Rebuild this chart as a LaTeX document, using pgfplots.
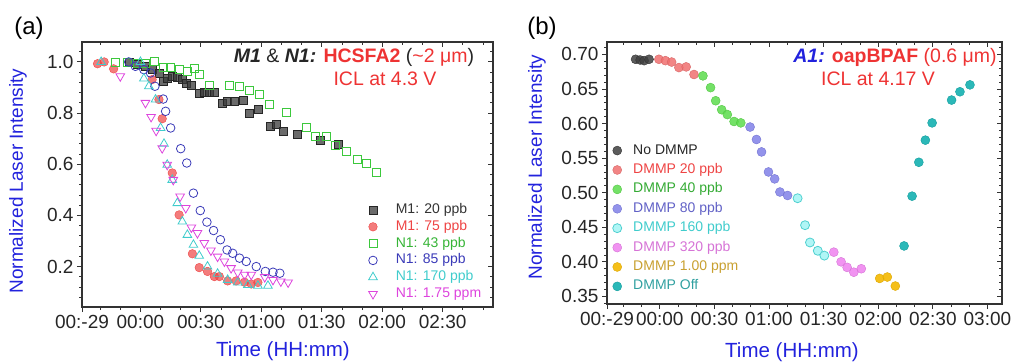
\documentclass[border=0pt]{standalone}
\usepackage{fontspec}
\setmainfont{Liberation Sans}
\usepackage{pgfplots}
\pgfplotsset{compat=1.18}

\definecolor{cBlk}{HTML}{3A3A3A}
\definecolor{cRed}{HTML}{EE4444}
\definecolor{cGrn}{HTML}{3CC83C}
\definecolor{cBlu}{HTML}{3A3AB8}
\definecolor{cCyn}{HTML}{40CCCC}
\definecolor{cMag}{HTML}{DD44DD}
\definecolor{labBlue}{HTML}{2222DD}
\definecolor{txtRed}{HTML}{EE3333}
\definecolor{bBlk}{HTML}{404040}
\definecolor{bRed}{HTML}{F07070}
\definecolor{bGrn}{HTML}{5CDC4C}
\definecolor{bBlu}{HTML}{8080E8}
\definecolor{bCynF}{HTML}{B0F6F6}
\definecolor{bCyn}{HTML}{50D0D0}
\definecolor{bMag}{HTML}{EE80EE}
\definecolor{bOrg}{HTML}{F4B800}
\definecolor{bTeal}{HTML}{14B0B0}
\definecolor{tGold}{HTML}{C8A030}
\definecolor{tTeal}{HTML}{30A0A0}

\pgfplotsset{
  base/.style={scale only axis,
    axis line style={line width=1.1pt, black!80},
    major tick style={line width=1pt, black!80},
    minor tick style={line width=0.8pt, black!80},
    major tick length=5pt, minor tick length=3pt,
    ticklabel style={font=\fontsize{19}{21}\selectfont, text=black!85},
  },
}

\begin{document}
\begin{tikzpicture}[x=1pt,y=1pt]
\path[use as bounding box] (0,0) rectangle (1011,362);

% ---------------- Panel (a) ----------------
\begin{axis}[base, at={(82pt,55pt)}, anchor=south west, width=411pt, height=265pt,
  xmin=-29, xmax=175, ymin=0.042, ymax=1.078,
  tick pos=left, tick align=outside,
  xtick={-29,0,30,60,90,120,150},
  xticklabels={00:-29,00:00,00:30,01:00,01:30,02:00,02:30},
  minor xtick={-20,-10,10,20,40,50,70,80,100,110,130,140,160,170},
  ytick={0.2,0.4,0.6,0.8,1.0},
  yticklabels={0.2,0.4,0.6,0.8,1.0},
  minor ytick={0.08,0.12,0.16,0.24,0.28,0.32,0.36,0.44,0.48,0.52,0.56,0.64,0.68,0.72,0.76,0.84,0.88,0.92,0.96,1.04},
  legend style={at={(0.697,0.395)}, anchor=north west, draw=none, fill=none, inner sep=0pt,
    font=\fontsize{14}{16}\selectfont, row sep=1.8pt,
    nodes={inner sep=1pt, text height=10pt, text depth=3pt},
    /tikz/every odd column/.append style={column sep=17.5pt}},
  legend cell align=left,
]
\addplot[only marks, mark=square*, mark size=4pt, mark options={draw=black!85, fill=cBlk, fill opacity=0.75}] coordinates {
(-5.8,1.0) (-1.7,0.99) (2.5,0.983) (5.8,0.97) (9.2,0.955) (11.5,0.924) (13.3,0.937) (15.8,0.944)
(18.3,0.941) (20.5,0.931) (22.5,0.918) (25,0.911) (29.2,0.879) (31.7,0.881) (34.2,0.883) (36.7,0.881)
(40.8,0.840) (43.3,0.846) (46.7,0.846) (50.8,0.850) (54.2,0.798) (58.3,0.817) (64.2,0.748) (67.5,0.755)
(70.8,0.729) (78,0.716) (89.2,0.696) (98.3,0.679)};
\addlegendentry{\textcolor{black!80}{M1: 20 ppb}}
\addplot[only marks, mark=*, mark size=4.3pt, mark options={draw=cRed, fill=cRed, fill opacity=0.7}] coordinates {
(-21.3,0.993) (-18,1.0) (-13.3,0.973) (5.8,0.931) (9.2,0.853) (10.8,0.778) (15.8,0.566) (19.2,0.402)
(25.8,0.250) (29.2,0.196) (33.3,0.181) (36.7,0.161) (39.2,0.161) (43.3,0.144) (47.5,0.144) (51.7,0.139)
(55,0.132) (58.3,0.138)};
\addlegendentry{\textcolor{cRed}{M1: 75 ppb}}
\addplot[only marks, mark=square, mark size=4pt, mark options={draw=cGrn, line width=0.8pt}] coordinates {
(-12.5,1.0) (-6.7,1.0) (-1.7,0.993) (2.5,0.993) (6.7,1.003) (11.3,0.977) (15,0.977) (19.2,0.970)
(23.3,0.963) (26.7,0.973) (29.2,0.950) (34.2,0.909) (44.2,0.909) (49.2,0.905) (54.2,0.889) (59.2,0.872)
(64.2,0.833) (72.5,0.803) (82.5,0.746) (87,0.709) (92.5,0.709) (97,0.675) (102,0.650) (107.5,0.618)
(112.2,0.605) (117,0.569)};
\addlegendentry{\textcolor{cGrn!90!black}{N1: 43 ppb}}
\addplot[only marks, mark=o, mark size=4.3pt, mark options={draw=cBlu, line width=0.8pt}] coordinates {
(-5.8,1.0) (-2.5,0.983) (1.7,0.970) (5,0.957) (7.2,0.905) (11.3,0.855) (12.5,0.807) (15,0.742)
(20,0.661) (23,0.605) (26.3,0.487) (29.7,0.419) (33,0.374) (36.3,0.341) (39.7,0.305) (43,0.265)
(45.8,0.252) (49.2,0.233) (52.5,0.220) (57.5,0.200) (62,0.181) (65.8,0.178) (69.2,0.174)};
\addlegendentry{\textcolor{cBlu}{N1: 85 ppb}}
\addplot[only marks, mark=triangle, mark size=5pt, mark options={draw=cCyn, line width=0.8pt}] coordinates {
(-19.5,1.0) (0,1.0) (1.7,0.935) (4.2,0.905) (7.5,0.853) (10,0.742) (11.7,0.680) (13.3,0.598)
(15.8,0.539) (18.3,0.448) (20.8,0.376) (23.3,0.324) (26.3,0.285) (29.2,0.242) (33.3,0.200) (38.3,0.172)
(43.3,0.148) (48.3,0.138) (53.3,0.128) (58.3,0.125) (63.3,0.125)};
\addlegendentry{\textcolor{cCyn}{N1: 170 ppb}}
\addplot[only marks, mark=triangle, mark size=5pt, mark options={draw=cMag, line width=0.8pt, rotate=180}] coordinates {
(-10,0.944) (2.5,0.840) (5.3,0.785) (7.8,0.731) (10.8,0.663) (13.3,0.598) (16.3,0.539) (19.7,0.474)
(22.5,0.429) (25.3,0.353) (28.3,0.331) (31.7,0.292) (35,0.263) (38.3,0.239) (41.7,0.220) (45,0.194)
(48.3,0.177) (51.7,0.168) (55,0.168) (61.7,0.159) (65.8,0.148) (69.7,0.142) (73.3,0.138)};
\addlegendentry{\textcolor{cMag}{N1: 1.75 ppm}}
\end{axis}
\begin{axis}[base, at={(82pt,55pt)}, anchor=south west, width=411pt, height=265pt,
  xmin=-29, xmax=175, ymin=0.042, ymax=1.078,
  tick pos=right, tick align=inside,
  xtick={-29,0,30,60,90,120,150}, xticklabels={},
  minor xtick={-20,-10,10,20,40,50,70,80,100,110,130,140,160,170},
  ytick={0.2,0.4,0.6,0.8,1.0}, yticklabels={},
  minor ytick={0.08,0.12,0.16,0.24,0.28,0.32,0.36,0.44,0.48,0.52,0.56,0.64,0.68,0.72,0.76,0.84,0.88,0.92,0.96,1.04},
]
\end{axis}

% ---------------- Panel (b) ----------------
\begin{axis}[base, at={(607pt,58pt)}, anchor=south west, width=395pt, height=262pt,
  xmin=-29, xmax=188, ymin=0.339, ymax=0.718,
  tick pos=left, tick align=outside,
  xtick={-29,0,30,60,90,120,150,180},
  xticklabels={00:-29,00:00,00:30,01:00,01:30,02:00,02:30,03:00},
  minor xtick={-20,-10,10,20,40,50,70,80,100,110,130,140,160,170},
  ytick={0.35,0.40,0.45,0.50,0.55,0.60,0.65,0.70},
  yticklabels={0.35,0.40,0.45,0.50,0.55,0.60,0.65,0.70},
  minor ytick={0.34,0.36,0.37,0.38,0.39,0.41,0.42,0.43,0.44,0.46,0.47,0.48,0.49,0.51,0.52,0.53,0.54,0.56,0.57,0.58,0.59,0.61,0.62,0.63,0.64,0.66,0.67,0.68,0.69,0.71},
  legend style={at={(0.014,0.615)}, anchor=north west, draw=none, fill=none, inner sep=0pt,
    font=\fontsize{14}{16}\selectfont, row sep=4.4pt,
    nodes={inner sep=1pt, text height=10pt, text depth=3pt},
    /tikz/every odd column/.append style={column sep=10.5pt}},
  legend cell align=left,
]
\addplot[only marks, mark=*, mark size=4.5pt, mark options={draw=black!80, fill=bBlk, fill opacity=0.85}] coordinates {
(-13.3,0.693) (-10.8,0.692) (-8.6,0.691) (-5.9,0.693)};
\addlegendentry{\textcolor{black!85}{No DMMP}}
\addplot[only marks, mark=*, mark size=4.5pt, mark options={draw=bRed!90!black, fill=bRed, fill opacity=0.85}] coordinates {
(-0.5,0.693) (3.1,0.691) (6.5,0.689) (10.5,0.681) (14.5,0.682) (18.8,0.671)};
\addlegendentry{\textcolor{cRed}{DMMP 20 ppb}}
\addplot[only marks, mark=*, mark size=4.5pt, mark options={draw=bGrn!90!black, fill=bGrn, fill opacity=0.85}] coordinates {
(23.7,0.669) (27.9,0.652) (30.7,0.633) (34,0.620) (37.1,0.613) (40.8,0.603) (44.5,0.601)};
\addlegendentry{\textcolor{cGrn!85!black}{DMMP 40 ppb}}
\addplot[only marks, mark=*, mark size=4.5pt, mark options={draw=bBlu!90!black, fill=bBlu, fill opacity=0.85}] coordinates {
(49.6,0.595) (53.1,0.577) (55.9,0.559) (59.7,0.530) (63.1,0.520) (66,0.501) (70.2,0.496)};
\addlegendentry{\textcolor{cBlu!80}{DMMP 80 ppb}}
\addplot[only marks, mark=*, mark size=4.5pt, mark options={draw=bCyn, fill=bCynF, line width=0.8pt}] coordinates {
(75.7,0.492) (79.8,0.453) (82.5,0.428) (86.8,0.416) (90.4,0.409)};
\addlegendentry{\textcolor{cCyn}{DMMP 160 ppb}}
\addplot[only marks, mark=*, mark size=4.5pt, mark options={draw=bMag!90!black, fill=bMag, fill opacity=0.85}] coordinates {
(95.6,0.414) (99.6,0.400) (102.9,0.392) (106.6,0.385) (110.7,0.390)};
\addlegendentry{\textcolor{bMag!90!black}{DMMP 320 ppb}}
\addplot[only marks, mark=*, mark size=4.5pt, mark options={draw=bOrg!90!black, fill=bOrg, fill opacity=0.9}] coordinates {
(120.8,0.376) (125,0.378) (129.4,0.365)};
\addlegendentry{\textcolor{tGold}{DMMP 1.00 ppm}}
\addplot[only marks, mark=*, mark size=4.5pt, mark options={draw=bTeal!90!black, fill=bTeal, fill opacity=0.9}] coordinates {
(134.2,0.423) (138.6,0.495) (142.3,0.544) (145.9,0.576) (149.6,0.601) (160.3,0.634) (164.9,0.646) (170.4,0.656)};
\addlegendentry{\textcolor{tTeal}{DMMP Off}}
\end{axis}
\begin{axis}[base, at={(607pt,58pt)}, anchor=south west, width=395pt, height=262pt,
  xmin=-29, xmax=188, ymin=0.339, ymax=0.718,
  tick pos=right, tick align=inside,
  xtick={-29,0,30,60,90,120,150,180}, xticklabels={},
  minor xtick={-20,-10,10,20,40,50,70,80,100,110,130,140,160,170},
  ytick={0.35,0.40,0.45,0.50,0.55,0.60,0.65,0.70}, yticklabels={},
  minor ytick={0.34,0.36,0.37,0.38,0.39,0.41,0.42,0.43,0.44,0.46,0.47,0.48,0.49,0.51,0.52,0.53,0.54,0.56,0.57,0.58,0.59,0.61,0.62,0.63,0.64,0.66,0.67,0.68,0.69,0.71},
]
\end{axis}

% ---------------- Texts ----------------
\node[font=\fontsize{24}{26}\selectfont] at (29,334) {(a)};
\node[font=\fontsize{24}{26}\selectfont] at (542,334) {(b)};
\node[rotate=90, text=labBlue, font=\fontsize{19}{22}\selectfont] at (18,181) {Normalized Laser Intensity};
\node[rotate=90, text=labBlue, font=\fontsize{19}{22}\selectfont] at (537,195) {Normalized Laser Intensity};
\node[anchor=base, text=labBlue, font=\fontsize{20.5}{22}\selectfont] at (283,6) {Time (HH:mm)};
\node[anchor=base, text=labBlue, font=\fontsize{20.5}{22}\selectfont] at (792,5) {Time (HH:mm)};

\node[font=\fontsize{19.5}{22}\selectfont, text=black!85] at (354,305)
  {{\bfseries\itshape M1} \& {\bfseries\itshape N1:} {\color{txtRed}\bfseries HCSFA2} (\textcolor{txtRed}{\textasciitilde 2 μm})};
\node[font=\fontsize{19.5}{22}\selectfont, text=txtRed] at (385,283) {ICL at 4.3 V};
\node[font=\fontsize{19.5}{22}\selectfont] at (895,305)
  {{\color{labBlue}\bfseries\itshape A1:} {\color{txtRed}\bfseries oapBPAF} \textcolor{txtRed}{(0.6 μm)}};
\node[font=\fontsize{19.5}{22}\selectfont, text=txtRed] at (878,283) {ICL at 4.17 V};
\end{tikzpicture}
\end{document}
